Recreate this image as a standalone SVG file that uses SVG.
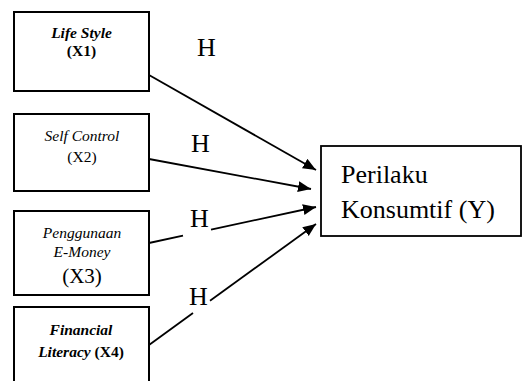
<svg xmlns="http://www.w3.org/2000/svg" width="524" height="381" viewBox="0 0 524 381" font-family="'Liberation Serif', 'Times New Roman', serif">
<defs>
<style>
.box{fill:#fff;stroke:#000;stroke-width:2}
.t{fill:#000;text-anchor:middle}
.s{font-size:15.5px}
.bi{font-weight:bold;font-style:italic}
.i{font-style:italic}
.b{font-weight:bold}
.big{font-size:26px;fill:#000}
.ln{stroke:#000;stroke-width:1.8;fill:none}
</style>
<marker id="ah" markerUnits="userSpaceOnUse" markerWidth="14" markerHeight="12" refX="13" refY="5.5" orient="auto">
<path d="M0,0 L13,5.5 L0,11 z" fill="#000"/>
</marker>
</defs>
<rect width="524" height="381" fill="#fff"/>
<g id="connectors">
<line class="ln" x1="149" y1="75" x2="316" y2="170" marker-end="url(#ah)"/>
<line class="ln" x1="149" y1="159" x2="311" y2="189" marker-end="url(#ah)"/>
<line class="ln" x1="149" y1="243" x2="183" y2="235.7"/>
<line class="ln" x1="211" y1="229.6" x2="316" y2="207" marker-end="url(#ah)"/>
<line class="ln" x1="149" y1="345" x2="193" y2="313.1"/>
<line class="ln" x1="210" y1="300.8" x2="316" y2="224" marker-end="url(#ah)"/>
<text class="big" x="197" y="56">H</text>
<text class="big" x="191" y="152">H</text>
<text class="big" x="190" y="227">H</text>
<text class="big" x="189" y="305">H</text>
</g>
<g id="x1">
<rect class="box" x="14" y="12" width="135" height="79"/>
<text class="t s bi" x="81.5" y="38">Life Style</text>
<text class="t s b" x="81.5" y="56">(X1)</text>
</g>
<g id="x2">
<rect class="box" x="14" y="114" width="135" height="77"/>
<text class="t s i" x="82" y="141">Self Control</text>
<text class="t s" x="82" y="162">(X2)</text>
</g>
<g id="x3">
<rect class="box" x="14" y="211" width="135" height="84"/>
<text class="t s i" x="82" y="238">Penggunaan</text>
<text class="t s i" x="82" y="257">E-Money</text>
<text class="t" style="font-size:21px" x="82" y="283">(X3)</text>
</g>
<g id="x4">
<rect class="box" x="14" y="307" width="135" height="78"/>
<text class="t s bi" x="81" y="335">Financial</text>
<text class="t s bi" x="81" y="357">Literacy <tspan style="font-style:normal">(X4)</tspan></text>
</g>
<g id="y">
<rect class="box" x="321" y="146" width="200" height="90" style="stroke-width:1.8"/>
<text class="big" x="341" y="183">Perilaku</text>
<text class="big" x="341" y="218">Konsumtif (Y)</text>
</g>
</svg>
